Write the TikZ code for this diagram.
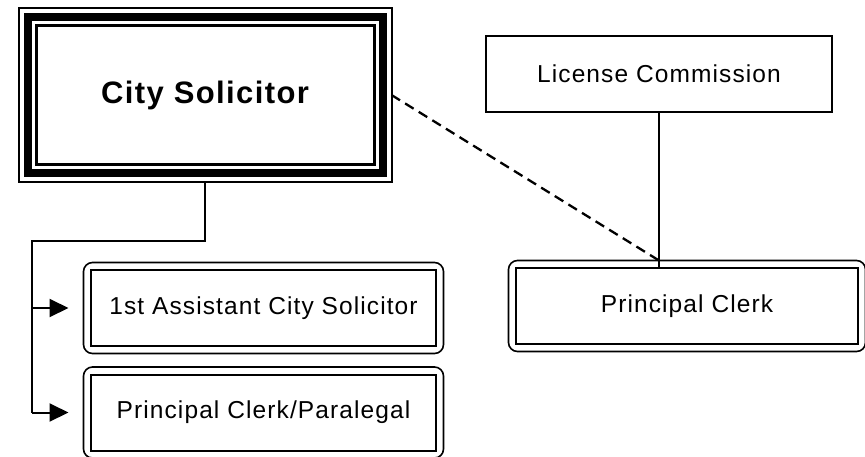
\documentclass[tikz,border=0pt]{standalone}
\usepackage{fontspec}
\newfontfamily\orgfont{Liberation Sans}[LetterSpace=4.5]
\usetikzlibrary{fit,arrows.meta}

\begin{document}
\begin{tikzpicture}[x=1pt,y=-1pt,
  unit/.style={draw,line width=2pt,outer sep=0pt,inner sep=0pt,minimum width=345pt,minimum height=76pt,font=\orgfont\fontsize{24.5}{28}\selectfont},
  frame/.style={draw,line width=1.6pt,outer sep=0pt,rounded corners=9pt,inner sep=7.5pt},
  link/.style={line width=2pt},
  feed/.style={link,-{Triangle[length=19pt,width=18pt]}}]
  \useasboundingbox (0,0) rectangle (865,456);

  % CITY SOLICITOR
  \node[draw,line width=3pt,outer sep=0pt,inner sep=0pt,minimum width=338pt,minimum height=139pt,
    font=\orgfont\bfseries\fontsize{31}{34}\selectfont] (Sol) at (205,95) {City Solicitor};
  \node[draw,line width=8pt,outer sep=0pt,inner sep=8.5pt,fit=(Sol)] (SolBand) {};
  \node[draw,line width=2pt,outer sep=0pt,inner sep=9pt,fit=(SolBand)] (SolOut) {};

  % staff
  \node[unit] (Asst) at (263.5,308) {1st Assistant City Solicitor};
  \node[frame,fit=(Asst)] (AsstOut) {};
  \node[unit] (Para) at (263.5,412.5) {Principal Clerk/Paralegal};
  \node[frame,fit=(Para)] (ParaOut) {};

  % License Commission
  \node[unit,minimum width=346pt] (Lic) at (659,74) {License Commission};
  \node[unit,minimum width=342pt] (Clerk) at (687,306) {Principal Clerk};
  \node[frame,fit=(Clerk)] (ClerkOut) {};

  \coordinate (bend) at (32,241);
  \draw[link] (SolOut.south) |- (bend) -- (bend |- Para);
  \draw[feed] (bend |- Asst) -- ([xshift=-15pt]AsstOut.west);
  \draw[feed] (bend |- Para) -- ([xshift=-15pt]ParaOut.west);
  \draw[link] (Lic.south) -- (Lic.south |- Clerk.north);
  \draw[link,line width=2.3pt,dash pattern=on 10pt off 6pt] (SolOut.east) -- (Lic.south |- ClerkOut.north);
\end{tikzpicture}
\end{document}
